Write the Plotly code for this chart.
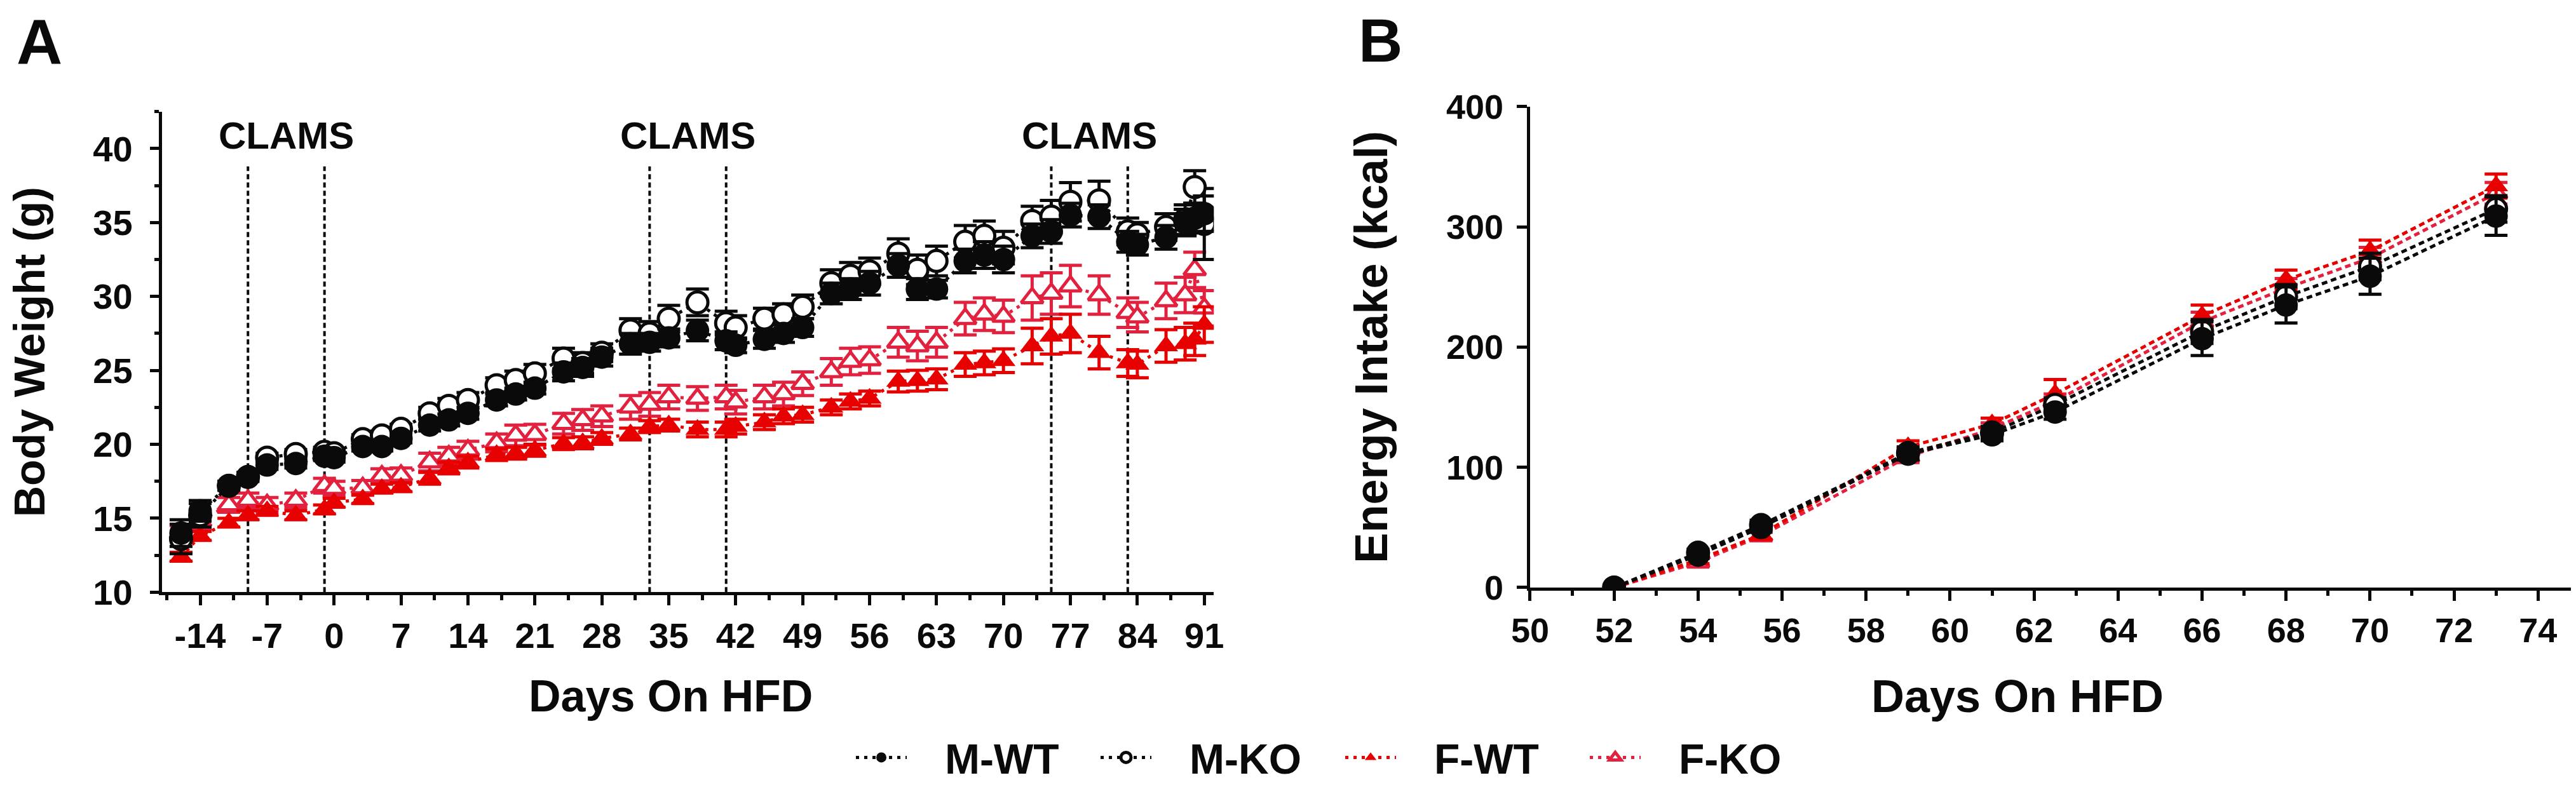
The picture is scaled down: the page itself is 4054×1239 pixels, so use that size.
import plotly.graph_objects as go

# ---------------- Panel A data: body weight ----------------
days_a = [-16, -14, -11, -9, -7, -4, -1, 0, 3, 5, 7, 10, 12, 14, 17, 19, 21, 24, 26, 28,
          31, 33, 35, 38, 41, 42, 45, 47, 49, 52, 54, 56, 59, 61, 63, 66, 68, 70, 73, 75,
          77, 80, 83, 84, 87, 89, 90, 91]

m_wt_a = [14.0, 15.5, 17.2, 17.8, 18.6, 18.7, 19.2, 19.1, 19.85, 19.85, 20.4, 21.3, 21.65, 22.1,
          23.0, 23.4, 23.8, 24.9, 25.2, 25.9, 26.8, 26.9, 27.2, 27.7, 27.0, 26.7, 27.1, 27.5,
          27.9, 30.2, 30.5, 30.9, 32.1, 30.5, 30.5, 32.4, 32.8, 32.5, 34.1, 34.4, 35.5, 35.4,
          33.7, 33.5, 34.0, 35.0, 35.3, 35.6]
m_wt_a_err = [0.9, 0.7, 0.3, 0.3, 0.3, 0.3, 0.3, 0.3, 0.3, 0.3, 0.3, 0.4, 0.4, 0.4, 0.4, 0.4,
              0.4, 0.6, 0.6, 0.6, 0.7, 0.6, 0.6, 0.7, 0.6, 0.5, 0.6, 0.6, 0.6, 0.7, 0.7, 0.8,
              0.8, 0.7, 0.6, 0.8, 0.9, 0.9, 0.8, 0.8, 0.8, 0.8, 0.7, 0.7, 0.8, 0.9, 1.0, 1.2]

m_ko_a = [13.6, 15.2, 17.2, 17.8, 19.1, 19.35, 19.5, 19.4, 20.35, 20.6, 21.05, 22.1, 22.6, 23.0,
          24.0, 24.35, 24.8, 25.8, 25.5, 26.2, 27.7, 27.5, 28.5, 29.6, 28.2, 27.9, 28.5, 28.8,
          29.3, 30.9, 31.4, 31.7, 32.9, 31.8, 32.4, 33.7, 34.1, 33.3, 35.1, 35.4, 36.4, 36.5,
          34.4, 34.2, 34.7, 35.2, 37.4, 34.9]
m_ko_a_err = [1.0, 0.8, 0.3, 0.3, 0.3, 0.3, 0.3, 0.3, 0.3, 0.3, 0.3, 0.4, 0.5, 0.5, 0.5, 0.6,
              0.6, 0.7, 0.7, 0.6, 0.8, 0.8, 0.9, 0.9, 0.8, 0.8, 0.7, 0.7, 0.8, 0.9, 0.9, 0.9,
              1.0, 1.0, 1.0, 1.1, 1.0, 1.1, 1.0, 1.1, 1.3, 1.3, 0.9, 0.8, 0.9, 1.0, 1.1, 2.4]

f_wt_a = [12.4, 13.8, 14.7, 15.2, 15.5, 15.2, 15.6, 16.05, 16.3, 17.0, 17.1, 17.7, 18.4, 18.8,
          19.3, 19.4, 19.6, 20.05, 20.1, 20.4, 20.7, 21.2, 21.3, 21.0, 21.0, 21.2, 21.5, 21.9,
          22.0, 22.5, 22.9, 23.1, 24.25, 24.3, 24.4, 25.4, 25.5, 25.65, 26.65, 27.3, 27.5, 26.2,
          25.5, 25.4, 26.65, 26.8, 27.1, 28.1]
f_wt_a_err = [0.3, 0.3, 0.3, 0.3, 0.3, 0.3, 0.3, 0.3, 0.3, 0.3, 0.3, 0.4, 0.4, 0.4, 0.4, 0.4,
              0.4, 0.4, 0.4, 0.4, 0.4, 0.4, 0.4, 0.5, 0.5, 0.5, 0.5, 0.5, 0.5, 0.5, 0.5, 0.5,
              0.7, 0.7, 0.7, 0.8, 0.8, 0.8, 1.2, 1.2, 1.3, 1.1, 0.9, 0.9, 1.1, 1.1, 1.1, 1.2]

f_ko_a = [14.0, 14.8, 15.9, 16.2, 15.9, 16.2, 17.2, 17.0, 17.05, 17.85, 17.9, 18.8, 19.2, 19.6,
          20.1, 20.6, 20.65, 21.4, 21.65, 21.9, 22.5, 22.7, 23.2, 23.1, 23.2, 22.85, 23.2, 23.4,
          24.1, 24.9, 25.6, 25.7, 26.9, 26.65, 26.9, 28.5, 28.8, 28.65, 29.9, 30.2, 30.7, 30.1,
          28.9, 28.6, 29.7, 30.1, 31.8, 29.2]
f_ko_a_err = [0.5, 0.6, 0.5, 0.5, 0.5, 0.5, 0.5, 0.5, 0.5, 0.5, 0.5, 0.6, 0.6, 0.6, 0.6, 0.7,
              0.7, 0.7, 0.7, 0.7, 0.8, 0.8, 0.8, 0.8, 0.8, 0.8, 0.8, 0.8, 0.8, 0.9, 0.9, 0.9,
              1.0, 1.0, 1.0, 1.1, 1.1, 1.1, 1.5, 1.4, 1.4, 1.3, 1.0, 1.0, 1.2, 1.2, 1.2, 1.2]

clams_start = [-9, 33, 75]
clams_end = [-1, 41, 83]
clams_label = "CLAMS"

xticks_a = [-14, -7, 0, 7, 14, 21, 28, 35, 42, 49, 56, 63, 70, 77, 84, 91]
xticklabels_a = ["-14", "-7", "0", "7", "14", "21", "28", "35", "42", "49", "56", "63",
                 "70", "77", "84", "91"]
yticks_a = [10, 15, 20, 25, 30, 35, 40]

# ---------------- Panel B data: energy intake ----------------
days_b = [52, 54, 55.5, 59, 61, 62.5, 66, 68, 70, 73]
m_wt_b = [0, 27, 50, 111, 127, 146, 207, 235, 259, 309]
m_wt_b_err = [0, 3, 4, 5, 5, 6, 14, 15, 15, 16]
m_ko_b = [0, 29, 52, 112, 129, 152, 213, 242, 267, 315]
m_ko_b_err = [0, 3, 4, 5, 5, 6, 10, 10, 11, 11]
f_wt_b = [0, 23, 44, 117, 136, 161, 226, 256, 280, 334]
f_wt_b_err = [0, 3, 4, 5, 5, 12, 9, 8, 9, 10]
f_ko_b = [0, 21, 43, 109, 132, 155, 221, 249, 274, 328]
f_ko_b_err = [0, 3, 4, 5, 5, 6, 8, 8, 9, 9]

xticks_b = [50, 52, 54, 56, 58, 60, 62, 64, 66, 68, 70, 72, 74]
yticks_b = [0, 100, 200, 300, 400]

x_title = "Days On HFD"

# ---------------- styling ----------------
BLACK = "#0a0a0a"
RED = "#e60000"
CRIMSON = "#e2213e"
FONT = "Liberation Sans, Arial, sans-serif"
DOT_A = "5px,8px"
DOT_B = "9px,6px"
NB = "\u00a0"

# drawing order: bottom -> top
series = [
    # name, color, symbol, fill, legendrank, A y, A err, B y, B err
    ("F-KO", CRIMSON, "triangle-up", "white", 4, f_ko_a, f_ko_a_err, f_ko_b, f_ko_b_err),
    ("F-WT", RED, "triangle-up", RED, 3, f_wt_a, f_wt_a_err, f_wt_b, f_wt_b_err),
    ("M-KO", BLACK, "circle", "white", 2, m_ko_a, m_ko_a_err, m_ko_b, m_ko_b_err),
    ("M-WT", BLACK, "circle", BLACK, 1, m_wt_a, m_wt_a_err, m_wt_b, m_wt_b_err),
]

fig = go.Figure()

for name, col, sym, fill, rank, ya, ea, yb, eb in series:
    is_tri = sym.startswith("triangle")
    if is_tri:
        msize = 30 if fill == "white" else 33
    else:
        msize = 33 if fill == "white" else 37
    mline = 5 if fill == "white" else 0
    for panel, xs, ys, es, dash in (("a", days_a, ya, ea, DOT_A), ("b", days_b, yb, eb, DOT_B)):
        fig.add_trace(go.Scatter(
            x=xs, y=ys,
            xaxis="x" if panel == "a" else "x2",
            yaxis="y" if panel == "a" else "y2",
            mode="lines+markers",
            name=NB * 3 + name,
            legendgroup=name,
            legendrank=rank,
            showlegend=(panel == "a"),
            line=dict(color=col, width=5, dash=dash),
            marker=dict(symbol=sym, size=msize, color=fill,
                        line=dict(color=col, width=mline)),
            error_y=dict(type="data", array=es, visible=True, color=col,
                         thickness=5, width=18),
        ))

# CLAMS periods
for s, e in zip(clams_start, clams_end):
    for xv in (s, e):
        fig.add_shape(type="line", xref="x", yref="y", x0=xv, x1=xv, y0=10, y1=38.8,
                      line=dict(color=BLACK, width=4, dash="8px,5px"), layer="below")
    fig.add_annotation(xref="x", yref="y", x=(s + e) / 2, y=40.9, text=clams_label,
                       showarrow=False, font=dict(family=FONT, size=60, color=BLACK, weight=700),
                       xanchor="center", yanchor="middle")

axis_common = dict(showgrid=False, zeroline=False, showline=True, linecolor=BLACK,
                   linewidth=5, ticks="outside", tickwidth=5, tickcolor=BLACK,
                   automargin=False,
                   tickfont=dict(family=FONT, size=56, color=BLACK, weight=700))

fig.update_layout(
    width=4054, height=1239,
    margin=dict(l=0, r=0, t=0, b=0, autoexpand=False),
    paper_bgcolor="white", plot_bgcolor="white",
    font=dict(family=FONT, color=BLACK),
    xaxis=dict(**axis_common, domain=[0.06088, 0.46924], range=[-18, 92],
               tickmode="array", tickvals=xticks_a, ticktext=xticklabels_a, ticklen=16,
               minor=dict(tickmode="linear", tick0=3.5, dtick=7, ticks="outside", ticklen=8,
                          tickwidth=5, tickcolor=BLACK),
               anchor="y"),
    yaxis=dict(**axis_common, domain=[0.2540, 0.8646], range=[10, 42.5],
               tickmode="array", tickvals=yticks_a, ticklen=14, ticklabelstandoff=16,
               minor=dict(tickmode="linear", tick0=12.5, dtick=5, ticks="outside", ticklen=7,
                          tickwidth=5, tickcolor=BLACK),
               title=dict(text="Body Weight (g)", standoff=98,
                          font=dict(family=FONT, size=68, color=BLACK, weight=700)),
               anchor="x"),
    xaxis2=dict(**axis_common, domain=[0.5920, 0.9996], range=[50, 75],
                tickmode="array", tickvals=xticks_b, ticklen=16,
                minor=dict(tickmode="linear", tick0=51, dtick=2, ticks="outside", ticklen=8,
                           tickwidth=5, tickcolor=BLACK),
                anchor="y2"),
    yaxis2=dict(**axis_common, domain=[0.2599, 0.8709], range=[0, 400],
                tickmode="array", tickvals=yticks_b, ticklen=16, ticklabelstandoff=10,
                title=dict(text="Energy Intake (kcal)", standoff=70,
                           font=dict(family=FONT, size=72, color=BLACK, weight=700)),
                anchor="x2"),
    legend=dict(orientation="h", x=0.519, xanchor="center", y=0.044, yanchor="middle",
                font=dict(family=FONT, size=66, color=BLACK, weight=700),
                itemwidth=80, entrywidth=290, entrywidthmode="pixels",
                itemsizing="trace", bgcolor="rgba(0,0,0,0)"),
    showlegend=True,
)
fig.update_layout(xaxis2_tickfont_size=54, yaxis2_tickfont_size=54)

# x-axis titles (placed slightly off-centre, as in the original figure)
fig.add_annotation(xref="paper", yref="paper", x=1047 / 4054, y=1 - 1088 / 1239, text=x_title,
                   showarrow=False, xanchor="center", yanchor="middle",
                   font=dict(family=FONT, size=70, color=BLACK, weight=700))
fig.add_annotation(xref="paper", yref="paper", x=3167 / 4054, y=1 - 1088 / 1239, text=x_title,
                   showarrow=False, xanchor="center", yanchor="middle",
                   font=dict(family=FONT, size=72, color=BLACK, weight=700))

# panel letters
fig.add_annotation(xref="paper", yref="paper", x=16 / 4054, y=1.0, text="A",
                   showarrow=False, xanchor="left", yanchor="top",
                   font=dict(family=FONT, size=100, color=BLACK, weight=700))
fig.add_annotation(xref="paper", yref="paper", x=2128 / 4054, y=1.0, text="B",
                   showarrow=False, xanchor="left", yanchor="top",
                   font=dict(family=FONT, size=96, color=BLACK, weight=700))

fig.write_html("out.html")
